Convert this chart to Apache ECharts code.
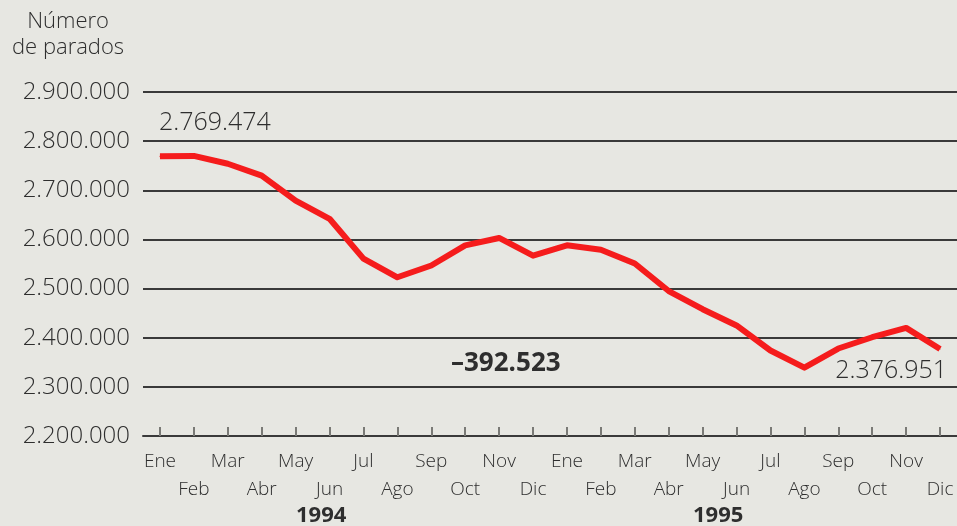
<!DOCTYPE html>
<html>
<head>
<meta charset="utf-8">
<script src="https://cdn.jsdelivr.net/npm/echarts@6/dist/echarts.min.js"></script>
<style>
  html, body { margin: 0; padding: 0; background: #e7e7e2; }
  #chart { width: 957px; height: 526px; }
</style>
</head>
<body>
<div id="chart"></div>
<script>
// meses de 1994 y 1995
const months = ['Ene', 'Feb', 'Mar', 'Abr', 'May', 'Jun', 'Jul', 'Ago', 'Sep', 'Oct', 'Nov', 'Dic',
                'Ene', 'Feb', 'Mar', 'Abr', 'May', 'Jun', 'Jul', 'Ago', 'Sep', 'Oct', 'Nov', 'Dic']
const parados1994 = [2769474, 2770000, 2754000, 2730000, 2679000, 2642000, 2561000, 2523000, 2547000, 2588000, 2603000, 2567000]
const parados1995 = [2588000, 2579000, 2551000, 2495000, 2458000, 2425000, 2374000, 2339000, 2378000, 2401000, 2420000, 2376951]
const yTicks = [2200000, 2300000, 2400000, 2500000, 2600000, 2700000, 2800000, 2900000]
const years = ['1994', '1995']
const totalChange = '\u2013392.523'

const fmt = v => String(v).replace(/\B(?=(\d{3})+(?!\d))/g, '.')
const font = '"Open Sans", Lato, sans-serif'
const ink = '#2e2e2e'

const values = parados1994.concat(parados1995)
const seriesData = values.map((v, i) => {
  if (i === 0) {
    return { value: v, label: { show: true, position: 'top', distance: 20, align: 'left', offset: [-1, 0], formatter: p => fmt(p.value) } }
  }
  if (i === values.length - 1) {
    return { value: v, label: { show: true, position: 'bottom', distance: 9, align: 'right', offset: [7, 0], formatter: p => fmt(p.value) } }
  }
  return v
})

const chart = echarts.init(document.getElementById('chart'))
chart.setOption({
  backgroundColor: '#e7e7e2',
  textStyle: { fontFamily: font },
  grid: { left: 143, right: 0, top: 92, bottom: 90 },
  xAxis: {
    type: 'category',
    data: months,
    boundaryGap: true,
    axisLine: { lineStyle: { color: '#3a3a3a', width: 2 } },
    axisTick: { show: true, interval: 0, inside: true, alignWithLabel: true, length: 9, lineStyle: { color: '#7a7a76', width: 2 } },
    axisLabel: {
      interval: 0,
      margin: 12,
      color: ink,
      fontSize: 19,
      fontWeight: 300,
      lineHeight: 28,
      fontFamily: font,
      formatter: (v, i) => (i % 2 === 0 ? v : '\n' + v)
    }
  },
  yAxis: {
    type: 'value',
    min: yTicks[0],
    max: yTicks[yTicks.length - 1],
    interval: 100000,
    axisLine: { show: false },
    axisTick: { show: false },
    axisLabel: { margin: 13, color: ink, fontSize: 24, fontWeight: 300, fontFamily: font, formatter: v => fmt(v) },
    splitLine: { lineStyle: { color: '#3a3a3a', width: 2 } }
  },
  series: [{
    type: 'line',
    data: seriesData,
    symbol: 'circle',
    symbolSize: 1,
    showSymbol: true,
    itemStyle: { color: '#f51c1c' },
    lineStyle: { color: '#f51c1c', width: 6, join: 'round' },
    label: { color: ink, fontSize: 25, fontWeight: 300, fontFamily: font },
    z: 5
  }],
  graphic: [
    { type: 'text', left: 12, top: 9, style: { text: 'Número\nde parados', fontSize: 22, fontWeight: 300, lineHeight: 26, textAlign: 'center', fill: ink, fontFamily: font } },
    { type: 'text', left: 451, top: 351, style: { text: totalChange, fontSize: 26, fontWeight: 'bold', fill: ink, fontFamily: font } },
    { type: 'text', left: 296, top: 505, style: { text: years[0], fontSize: 22, fontWeight: 'bold', fill: ink, fontFamily: font } },
    { type: 'text', left: 693, top: 505, style: { text: years[1], fontSize: 22, fontWeight: 'bold', fill: ink, fontFamily: font } }
  ]
})
</script>
</body>
</html>
